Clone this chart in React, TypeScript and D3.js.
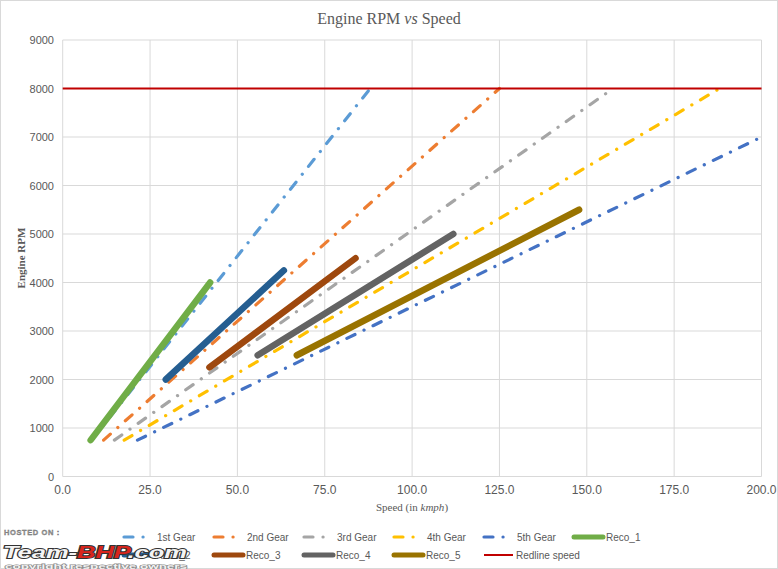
import React from "react";
import * as d3 from "d3";

const W = 778;
const H = 569;

// Series data (speed in km/h, engine RPM)
const seriesNames = ["1st Gear", "2nd Gear", "3rd Gear", "4th Gear", "5th Gear", "Reco_1", "Reco_2", "Reco_3", "Reco_4", "Reco_5", "Redline speed"];
const gear1Speed = [8.3, 88.0];
const gear1Rpm = [750, 8000];
const gear2Speed = [11.7, 125.0];
const gear2Rpm = [750, 8000];
const gear3Speed = [14.8, 157.5];
const gear3Rpm = [750, 8000];
const gear4Speed = [17.6, 188.0];
const gear4Rpm = [750, 8000];
const gear5Speed = [21.4, 200.0];
const gear5Rpm = [750, 7000];
const reco1Speed = [8.0, 42.2];
const reco1Rpm = [750, 4000];
const reco2Speed = [29.5, 63.3];
const reco2Rpm = [2000, 4250];
const reco3Speed = [42.0, 83.8];
const reco3Rpm = [2250, 4500];
const reco4Speed = [55.8, 111.8];
const reco4Rpm = [2500, 5000];
const reco5Speed = [67.0, 147.8];
const reco5Rpm = [2500, 5500];
const redlineSpeed = [0, 200];
const redlineRpm = [8000, 8000];

const xTicks = [0, 25, 50, 75, 100, 125, 150, 175, 200];
const yTicks = [0, 1000, 2000, 3000, 4000, 5000, 6000, 7000, 8000, 9000];

const colors = ["#5B9BD5", "#ED7D31", "#A5A5A5", "#FFC000", "#4472C4", "#70AD47", "#255E91", "#9E480E", "#636363", "#997300", "#C00000"];
const kinds = ["gear", "gear", "gear", "gear", "gear", "reco", "reco", "reco", "reco", "reco", "red"];
const speeds = [gear1Speed, gear2Speed, gear3Speed, gear4Speed, gear5Speed, reco1Speed, reco2Speed, reco3Speed, reco4Speed, reco5Speed, redlineSpeed];
const rpms = [gear1Rpm, gear2Rpm, gear3Rpm, gear4Rpm, gear5Rpm, reco1Rpm, reco2Rpm, reco3Rpm, reco4Rpm, reco5Rpm, redlineRpm];

const x = d3.scaleLinear().domain([0, 200]).range([62.7, 761.5]);
const y = d3.scaleLinear().domain([0, 9000]).range([476.5, 40]);

const styleFor = (k: string) => {
  if (k === "gear") return { w: 3.2, dash: "9 10 0.1 10", cap: "round" as const };
  if (k === "reco") return { w: 6.5, dash: undefined, cap: "round" as const };
  return { w: 2.2, dash: undefined, cap: "butt" as const };
};

export default function App() {
  const line = d3.line<[number, number]>().x((d) => x(d[0])).y((d) => y(d[1]));
  const sans = "'Liberation Sans', Arial, sans-serif";
  const serif = "'Liberation Serif', 'Times New Roman', serif";
  const legendRows = [
    [0, 1, 2, 3, 4, 5],
    [6, 7, 8, 9, 10],
  ];
  return (
    <svg width={W} height={H} style={{ position: "absolute", left: 0, top: 0, background: "#fff" }}>
      <rect x={0.5} y={0.5} width={W - 1} height={H - 1} fill="#fff" stroke="#D9D9D9" />
      <text x={389} y={24} textAnchor="middle" fontFamily={serif} fontSize={16} fill="#595959">
        Engine RPM <tspan fontStyle="italic">vs</tspan> Speed
      </text>
      {/* gridlines */}
      {yTicks.map((t) => (
        <line key={"gy" + t} x1={x(0)} x2={x(200)} y1={y(t)} y2={y(t)} stroke="#D9D9D9" strokeWidth={1} />
      ))}
      {xTicks.map((t) => (
        <line key={"gx" + t} x1={x(t)} x2={x(t)} y1={y(0)} y2={y(9000)} stroke="#D9D9D9" strokeWidth={1} />
      ))}
      {/* tick labels */}
      {yTicks.map((t) => (
        <text key={"ty" + t} x={54} y={y(t) + 4} textAnchor="end" fontFamily={sans} fontSize={11} fill="#595959">
          {t}
        </text>
      ))}
      {xTicks.map((t) => (
        <text key={"tx" + t} x={x(t)} y={494} textAnchor="middle" fontFamily={sans} fontSize={12} fill="#595959">
          {t.toFixed(1)}
        </text>
      ))}
      <text x={412} y={511} textAnchor="middle" fontFamily={serif} fontSize={11} fill="#595959">
        Speed (in <tspan fontStyle="italic">kmph</tspan>)
      </text>
      <text transform={`translate(25,258) rotate(-90)`} textAnchor="middle" fontFamily={serif} fontSize={11} fontWeight="bold" fill="#595959">
        Engine RPM
      </text>
      {/* series */}
      {speeds.map((sp, i) => {
        const st = styleFor(kinds[i]);
        const pts = sp.map((s, j) => [s, rpms[i][j]] as [number, number]);
        return (
          <path
            key={"s" + i}
            d={line(pts) || ""}
            fill="none"
            stroke={colors[i]}
            strokeWidth={st.w}
            strokeDasharray={st.dash}
            strokeLinecap={st.cap}
          />
        );
      })}
      {/* legend */}
      {legendRows.map((row, ri) =>
        row.map((si, ci) => {
          const lx = 122 + ci * 90;
          const ly = ri === 0 ? 537 : 555;
          const st = styleFor(kinds[si]);
          const x2 = kinds[si] === "gear" ? lx + 28 : lx + 31;
          return (
            <g key={"lg" + si}>
              <line
                x1={lx + 2}
                x2={x2}
                y1={ly}
                y2={ly}
                stroke={colors[si]}
                strokeWidth={kinds[si] === "reco" ? 5 : kinds[si] === "red" ? 2 : 3.2}
                strokeDasharray={st.dash}
                strokeLinecap={st.cap}
              />
              <text x={kinds[si] === "gear" ? lx + 35 : lx + 34} y={ly + 3.5} fontFamily={sans} fontSize={10} fill="#595959">
                {seriesNames[si]}
              </text>
            </g>
          );
        })
      )}
      {/* watermark */}
      <g fontFamily={sans} fontWeight="bold">
        <text x={4} y={535} fontSize={7.5} fill="#9a9a9a" stroke="#666" strokeWidth={0.3} letterSpacing={0.6}>
          HOSTED ON :
        </text>
        <text
          x={3}
          y={558}
          fontSize={16}
          fontStyle="italic"
          strokeWidth={1.8}
          stroke="#333"
          paintOrder="stroke"
          textLength={184}
          lengthAdjust="spacingAndGlyphs"
        >
          <tspan fill="#f4f4f4">Team-</tspan>
          <tspan fill="#d9251d">BHP</tspan>
          <tspan fill="#f4f4f4">.com</tspan>
        </text>
        <text
          x={5}
          y={568.5}
          fontSize={7.5}
          fill="#f2f2f2"
          stroke="#8a8a8a"
          strokeWidth={1.2}
          paintOrder="stroke"
          textLength={182}
          lengthAdjust="spacingAndGlyphs"
        >
          copyright respective owners
        </text>
      </g>
    </svg>
  );
}
